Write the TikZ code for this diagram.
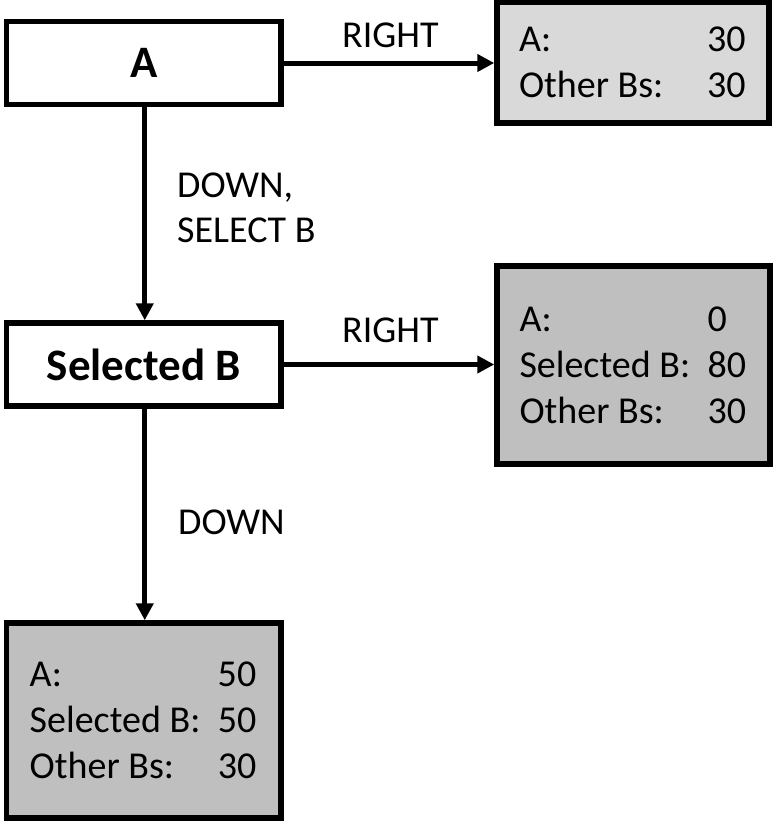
\documentclass[tikz,border=0pt]{standalone}
\usepackage{fontspec}
\setmainfont{Carlito}
\usetikzlibrary{arrows.meta}
\definecolor{lightbox}{HTML}{D9D9D9}
\definecolor{darkbox}{HTML}{BFBFBF}
\tikzset{
  statebox/.style={draw=black, line width=5.5pt, fill=white, inner sep=0pt,
    font=\fontsize{45}{50}\selectfont\bfseries},
  infobox/.style={draw=black, line width=5.5pt, inner sep=0pt, align=left,
    font=\fontsize{38}{46}\selectfont},
  conn/.style={line width=5pt, -{Triangle[length=17pt,width=17pt]}},
  lbl/.style={inner sep=0pt, anchor=base west, font=\fontsize{38}{46}\selectfont}
}
\newcommand{\inforow}[2]{\makebox[228pt][l]{\makebox[188pt][l]{#1}#2}}
\begin{document}
\begin{tikzpicture}[x=1pt,y=-1pt]
\useasboundingbox (0,0) rectangle (774,823);
% state boxes
\node[statebox, minimum width=274.5pt, minimum height=83pt] (A) at (143.75,63) {A};
\node[statebox, minimum width=274.5pt, minimum height=83pt] (B) at (143.75,364.5) {Selected B};
% info boxes
\node[infobox, fill=lightbox, minimum width=272pt, minimum height=120.5pt] (R1) at (633,62.75)
  {\inforow{A:}{30}\\\inforow{Other Bs:}{30}};
\node[infobox, fill=darkbox, minimum width=273pt, minimum height=198pt] (R2) at (633.5,365)
  {\inforow{A:}{0}\\\inforow{Selected B:}{80}\\\inforow{Other Bs:}{30}};
\node[infobox, fill=darkbox, minimum width=274.5pt, minimum height=195pt] (D) at (143.75,720.5)
  {\inforow{A:}{50}\\\inforow{Selected B:}{50}\\\inforow{Other Bs:}{30}};
% connectors
\draw[conn] (A.east) -- (A.east -| R1.west);
\draw[conn] ([xshift=1pt]A.south) -- ([xshift=1pt]B.north);
\draw[conn] (B.east) -- (B.east -| R2.west);
\draw[conn] ([xshift=1pt]B.south) -- ([xshift=1pt]D.north);
% labels
\node[lbl] (l1) at (342,47) {RIGHT};
\node[lbl] (l2) at (177,197) {DOWN,};
\node[lbl] (l3) at (177,242) {SELECT B};
\node[lbl] (l4) at (342,342) {RIGHT};
\node[lbl] (l5) at (178,534) {DOWN};
\end{tikzpicture}
\end{document}
